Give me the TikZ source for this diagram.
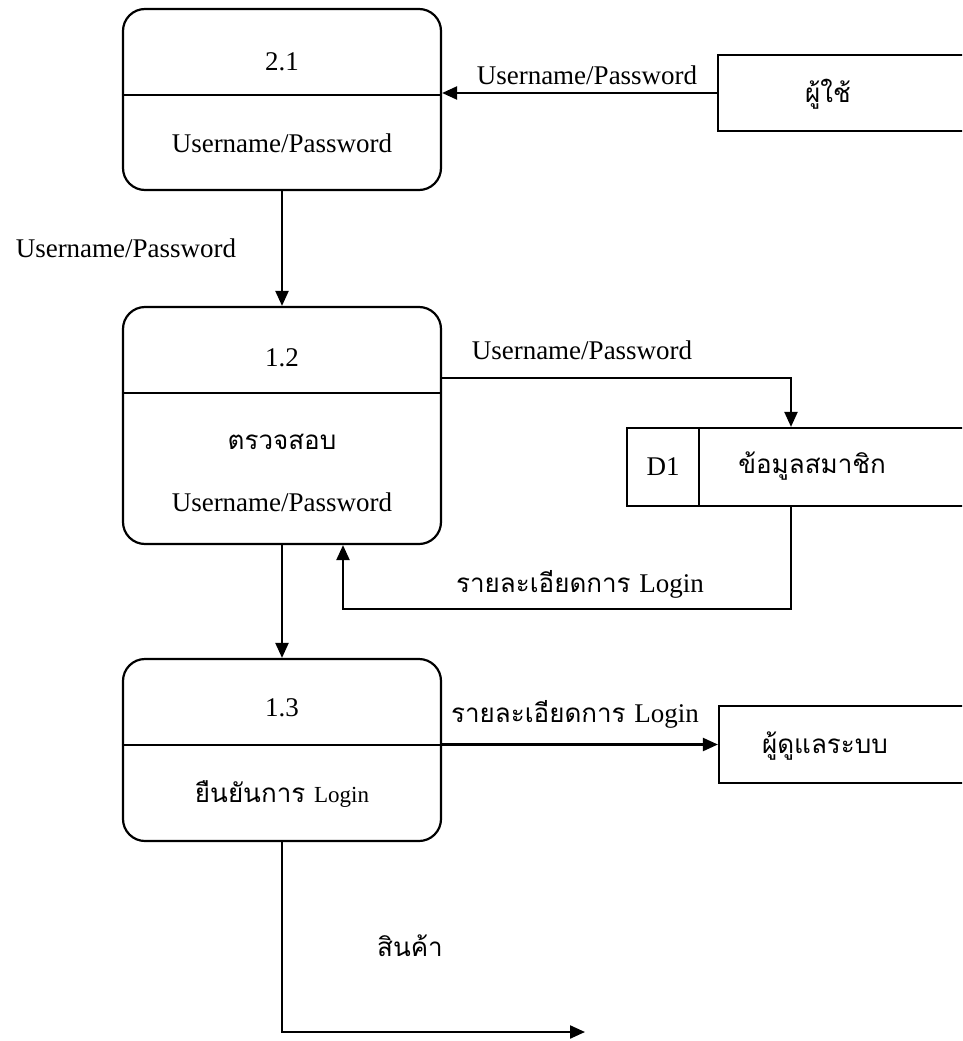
\documentclass[tikz,border=0pt]{standalone}
\usepackage{fontspec}
\setmainfont{Liberation Serif}
\newfontfamily\thai[Script=Thai]{Loma}
\usetikzlibrary{arrows.meta}

\begin{document}
\begin{tikzpicture}[x=1pt,y=-1pt,
  line width=2.2pt,
  flow/.style={-{Triangle[length=15pt,width=13pt]}},
  proc/.style={draw,rounded corners=22pt,minimum width=318pt,inner sep=0pt},
  ext/.style={draw,inner sep=0pt},
  txt/.style={inner sep=0pt,font=\fontsize{27}{32}\selectfont},
  ttxt/.style={inner sep=0pt,font=\fontsize{26}{32}\selectfont\thai}]
\useasboundingbox (0,0) rectangle (962,1041);
\clip (0,0) rectangle (962,1041);

% processes
\node[proc,minimum height=181pt] (p21) at (282,99.5) {};
\node[proc,minimum height=237pt] (p12) at (282,425.5) {};
\node[proc,minimum height=182pt] (p13) at (282,750) {};
\draw (p21.west |- 0,95) -- (p21.east |- 0,95);
\draw (p12.west |- 0,393) -- (p12.east |- 0,393);
\draw (p13.west |- 0,745) -- (p13.east |- 0,745);

\node[txt] (n21) at (282,62) {2.1};
\node[txt] (t21) at (282,143) {Username/Password};
\node[txt] (n12) at (282,358) {1.2};
\node[ttxt] (t12a) at (282,442) {ตรวจสอบ};
\node[txt] (t12b) at (282,502) {Username/Password};
\node[txt] (n13) at (282,708) {1.3};
\node[ttxt] (t13) at (282,794) {ยืนยันการ {\rmfamily\fontsize{23}{28}\selectfont Login}};

% external entities
\node[ext,minimum width=257pt,minimum height=76pt] (usr) at (846.5,93) {};
\node[ttxt] (usrt) at (828,94) {ผู้ใช้};
\node[ext,minimum width=256pt,minimum height=77pt] (adm) at (847,744.5) {};
\node[ttxt] (admt) at (825,746) {ผู้ดูแลระบบ};

% data store
\node[ext,minimum width=348pt,minimum height=78pt] (ds) at (801,467) {};
\draw (699,0 |- ds.north) -- (699,0 |- ds.south);
\node[txt] (dsid) at (663,467) {D1};
\node[ttxt] (dsname) at (812,466) {ข้อมูลสมาชิก};
\coordinate (dsx) at (791,467);

% data flows
\draw[flow] (usr.west) -- (usr.west -| p21.east);
\node[txt] (f1) at (587,75) {Username/Password};

\draw[flow] (p21.south) -- (p12.north);
\node[txt] (f2) at (126,248) {Username/Password};

\draw[flow] ([yshift=-72pt]p12.north east) -| (dsx |- ds.north);
\node[txt] (f3) at (582,350) {Username/Password};

\coordinate (ret) at (343,609);
\draw[flow] (dsx |- ds.south) |- (ret) -- (ret |- p12.south);
\node[ttxt] (f4) at (580,584) {รายละเอียดการ {\rmfamily\fontsize{27}{32}\selectfont Login}};

\draw[flow] (p12.south) -- (p13.north);

\draw[flow] (adm.west -| p13.east) -- (adm.west);
\node[ttxt] (f5) at (575,714) {รายละเอียดการ {\rmfamily\fontsize{27}{32}\selectfont Login}};

\coordinate (out) at (585,1032);
\draw[flow] (p13.south) |- (out);
\node[ttxt] (f6) at (410,946) {สินค้า};
\end{tikzpicture}
\end{document}
